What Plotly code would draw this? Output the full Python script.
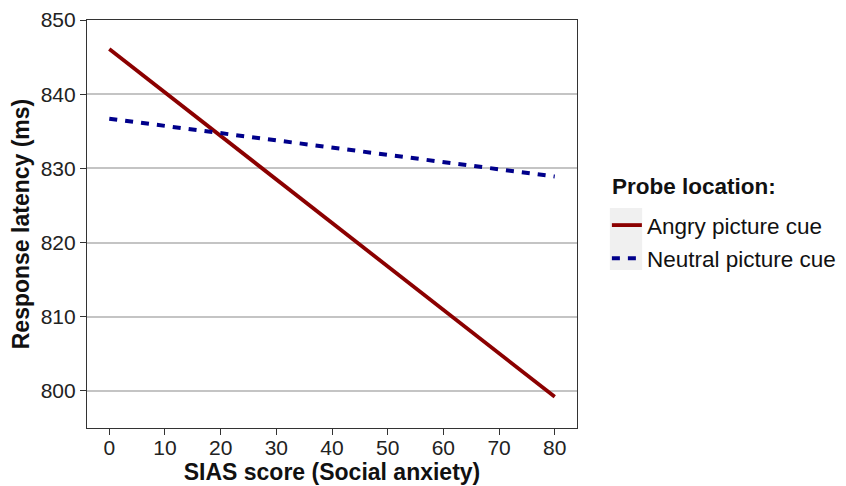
import plotly.graph_objects as go

sias = [0, 80]
angry = [846.1, 799.2]
neutral = [836.7, 828.9]
series_names = ["Angry picture cue", "Neutral picture cue"]
x_ticks = [0, 10, 20, 30, 40, 50, 60, 70, 80]
y_ticks = [800, 810, 820, 830, 840, 850]

fig = go.Figure()
fig.add_trace(go.Scatter(x=sias, y=angry, mode="lines", name=series_names[0], legendgroup="a",
                         line=dict(color="#8B0000", width=3.8)))
fig.add_trace(go.Scatter(x=sias, y=neutral, mode="lines", name=series_names[1], legendgroup="n",
                         line=dict(color="#00008B", width=4, dash="8px,8px")))

font = "Liberation Sans, Arial, sans-serif"
fig.update_layout(
    width=838, height=478,
    margin=dict(l=79, r=269, t=12, b=58, autoexpand=False),
    paper_bgcolor="white", plot_bgcolor="white",
    font=dict(family=font, size=21, color="#111"),
    legend=dict(
        x=1.061, xanchor="left", y=0.456, yanchor="middle",
        font=dict(size=22.5, color="#111"),
        bgcolor="rgba(0,0,0,0)", tracegroupgap=1,
    ),
    showlegend=True,
    annotations=[dict(text="<b>Probe location:</b>", xref="paper", yref="paper",
                      x=1.067, y=0.593, xanchor="left", yanchor="middle", showarrow=False,
                      font=dict(size=22.5, color="#111"))],
    shapes=[dict(type="rect", xref="paper", yref="paper", x0=1.067, x1=1.133, y0=0.387, y1=0.539,
                 fillcolor="#f0f0f0", line=dict(width=0), layer="below")],
)
fig.update_xaxes(
    range=[-4, 84], tickvals=x_ticks, showgrid=False, zeroline=False,
    showline=True, linecolor="#333", linewidth=1.2, mirror=True,
    ticks="outside", ticklen=6, tickcolor="#333", tickwidth=1.2,
    tickfont=dict(size=21, color="#222"), ticklabelstandoff=-5,
    title=dict(text="<b>SIAS score (Social anxiety)</b>", font=dict(size=23, color="#111"), standoff=0),
)
fig.update_yaxes(
    range=[795, 850], tickvals=y_ticks, showgrid=True, gridcolor="#c4c4c4", gridwidth=1.5,
    zeroline=False, showline=True, linecolor="#333", linewidth=1.2, mirror=True,
    ticks="outside", ticklen=6, tickcolor="#333", tickwidth=1.2,
    tickfont=dict(size=21, color="#222"),
    title=dict(text="<b>Response latency (ms)</b>", font=dict(size=23, color="#111"), standoff=6),
)
fig.write_html("out.html")
